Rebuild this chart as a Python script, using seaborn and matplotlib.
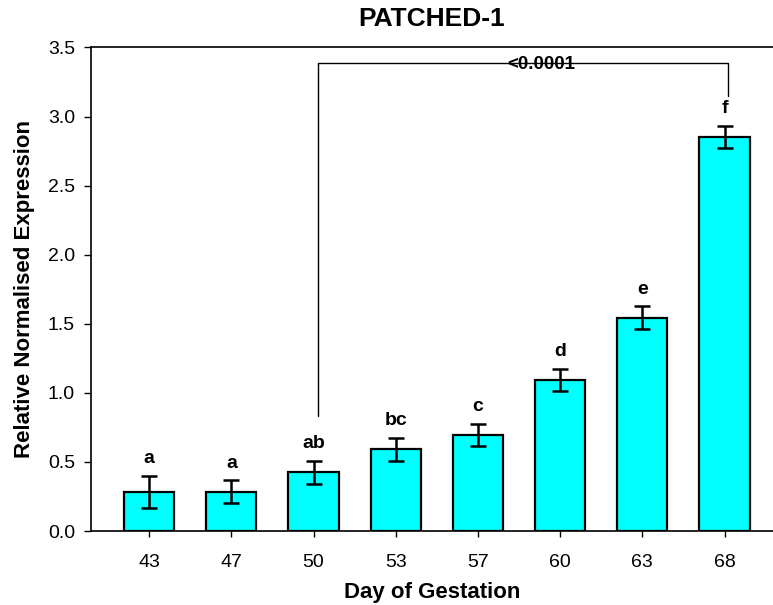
import matplotlib
matplotlib.use("Agg")
import matplotlib.pyplot as plt
import seaborn as sns
import pandas as pd

days = ["43", "47", "50", "53", "57", "60", "63", "68"]
expression = [0.285, 0.285, 0.425, 0.592, 0.696, 1.092, 1.543, 2.853]
errors = [0.115, 0.085, 0.084, 0.083, 0.082, 0.082, 0.084, 0.082]
letters = ["a", "a", "ab", "bc", "c", "d", "e", "f"]
p_label = "<0.0001"
y_ticks = [0.0, 0.5, 1.0, 1.5, 2.0, 2.5, 3.0, 3.5]

df = pd.DataFrame({"Day": days, "Expression": expression})

sns.set_style("ticks")
plt.rcParams["font.family"] = ["Liberation Sans", "DejaVu Sans"]
plt.rcParams["text.color"] = "black"
plt.rcParams["axes.labelcolor"] = "black"

fig = plt.figure(figsize=(7.73, 6.05), dpi=100)
ax = fig.add_axes([0.1177, 0.1223, 0.8823, 0.7992])

sns.barplot(data=df, x="Day", y="Expression", color="#00FFFF", saturation=1,
            edgecolor="black", linewidth=1.6, width=0.61, errorbar=None, ax=ax)

xs = list(range(len(days)))
ax.errorbar(xs, expression, yerr=errors, fmt="none", ecolor="black",
            elinewidth=1.8, capsize=6, capthick=1.8, zorder=5)

for i, (v, e, t) in enumerate(zip(expression, errors, letters)):
    ax.annotate(t, (i, v + e), xytext=(0, 6), textcoords="offset points",
                ha="center", va="bottom", fontsize=14, fontweight="bold",
                color="black")

# significance bracket between day 50 and day 68
i1, i2 = days.index("50"), days.index("68")
y_top = 3.389
ax.plot([i1 + 0.05, i1 + 0.05, i2 + 0.04, i2 + 0.04],
        [0.835, y_top, y_top, 3.147], color="black", lw=1.0, zorder=4)
ax.text(4.77, y_top - 0.01, p_label, ha="center", va="center", fontsize=13.5,
        fontweight="bold", color="black", zorder=6)

ax.set_xlim(-0.708, 7.59)
ax.set_ylim(0, 3.5)
ax.set_yticks(y_ticks)
ax.set_yticklabels([f"{t:.1f}" for t in y_ticks])

for s in ["left", "bottom", "top"]:
    ax.spines[s].set_visible(True)
    ax.spines[s].set_linewidth(1.2)
    ax.spines[s].set_color("black")
ax.spines["right"].set_visible(False)

ax.tick_params(axis="both", direction="out", width=1.0,
               labelsize=14, color="black", labelcolor="black")
ax.tick_params(axis="x", pad=12, length=4.5)
ax.tick_params(axis="y", pad=6.5, length=5)

ax.set_xlabel("Day of Gestation", fontsize=16, fontweight="bold", labelpad=8,
              color="black")
ax.set_ylabel("Relative Normalised Expression", fontsize=16, fontweight="bold",
              labelpad=9.5, color="black")
ax.set_title("PATCHED-1", fontsize=19, fontweight="bold", pad=15.5, color="black")

fig.savefig("out.png", dpi=100)
